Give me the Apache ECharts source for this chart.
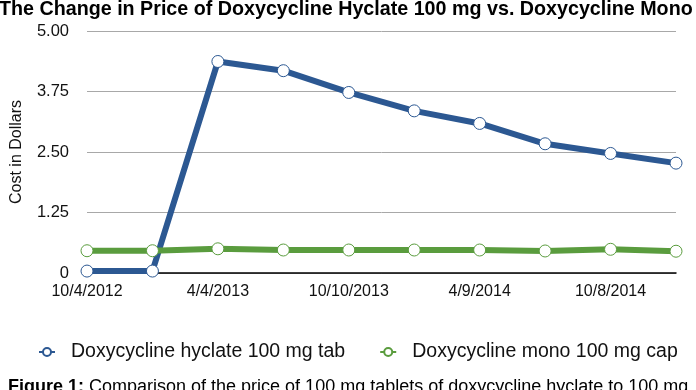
<!DOCTYPE html>
<html>
<head>
<meta charset="utf-8">
<script src="https://cdn.jsdelivr.net/npm/echarts@6/dist/echarts.min.js"></script>
<style>
  html, body { margin: 0; padding: 0; background: #fff; }
  #main { width: 696px; height: 390px; }
</style>
</head>
<body>
<div id="main"></div>
<script>
// dates of price checks (only every other one is labelled on the axis)
var dates = ['10/4/2012', '1/3/2013', '4/4/2013', '7/5/2013', '10/10/2013',
             '1/9/2014', '4/9/2014', '7/9/2014', '10/8/2014', '1/7/2015'];
var hyclate = [0.04, 0.04, 4.37, 4.18, 3.73, 3.35, 3.09, 2.67, 2.47, 2.27];
var mono = [0.46, 0.46, 0.50, 0.475, 0.475, 0.475, 0.475, 0.455, 0.49, 0.45];
var yTicks = ['0', '1.25', '2.50', '3.75', '5.00'];

var blue = '#2c5892';
var green = '#5a9c3e';
var font = '"Liberation Sans", Arial, Helvetica, sans-serif';

var chart = echarts.init(document.getElementById('main'));
var option = {
  animation: false,
  textStyle: { fontFamily: font },
  grid: { left: 87, right: 20, top: 31, bottom: 117 },
  legend: {
    left: 33,
    top: 337,
    itemWidth: 16,
    itemHeight: 10,
    itemGap: 34,
    textStyle: { fontSize: 19.5, color: '#111', fontFamily: font, padding: [0, 0, 0, 11] },
    data: ['Doxycycline hyclate 100 mg tab', 'Doxycycline mono 100 mg cap']
  },
  xAxis: {
    type: 'category',
    data: dates,
    boundaryGap: false,
    axisLine: { lineStyle: { color: '#000', width: 1.5 } },
    axisTick: { show: false },
    axisLabel: { interval: 1, fontSize: 16, color: '#111', margin: 11 },
    splitLine: { show: false }
  },
  yAxis: {
    type: 'value',
    min: 0,
    max: 5,
    interval: 1.25,
    name: 'Cost in Dollars',
    nameLocation: 'middle',
    nameGap: 62,
    nameTextStyle: { fontSize: 16, color: '#111' },
    axisLine: { show: false },
    axisTick: { show: false },
    axisLabel: {
      fontSize: 16.5, color: '#111', margin: 18,
      formatter: function (v) { return yTicks[Math.round(v / 1.25)]; }
    },
    splitLine: { lineStyle: { color: '#a8a8a8', width: 1 } }
  },
  series: [
    {
      name: 'Doxycycline hyclate 100 mg tab',
      type: 'line',
      data: hyclate,
      symbol: 'circle',
      symbolSize: 12,
      lineStyle: { color: blue, width: 6 },
      itemStyle: { color: '#fff', borderColor: blue, borderWidth: 1 }
    },
    {
      name: 'Doxycycline mono 100 mg cap',
      type: 'line',
      data: mono,
      symbol: 'circle',
      symbolSize: 12,
      lineStyle: { color: green, width: 6 },
      itemStyle: { color: '#fff', borderColor: green, borderWidth: 1 }
    }
  ],
  graphic: [
    {
      type: 'text',
      left: -1,
      top: 0,
      style: {
        text: 'The Change in Price of Doxycycline Hyclate 100 mg vs. Doxycycline Mono',
        font: 'bold 19.7px ' + font,
        fill: '#000'
      }
    },
    {
      type: 'text',
      left: 8,
      top: 378,
      style: {
        text: '{b|Figure 1:} Comparison of the price of 100 mg tablets of doxycycline hyclate to 100 mg',
        font: '18px ' + font,
        fill: '#000',
        rich: {
          b: { font: 'bold 18px ' + font, fill: '#000' }
        }
      }
    }
  ]
};
chart.setOption(option);
</script>
</body>
</html>
